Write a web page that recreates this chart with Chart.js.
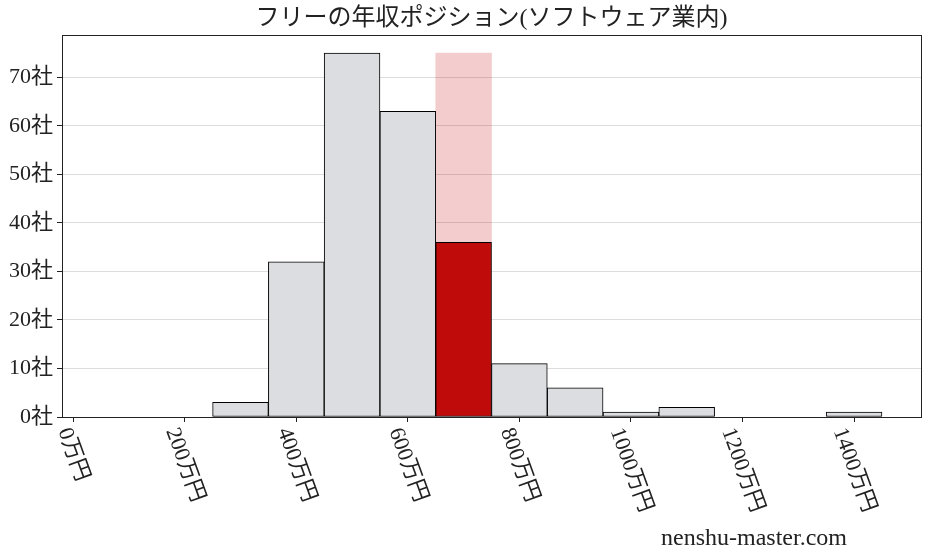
<!DOCTYPE html>
<html lang="ja">
<head>
<meta charset="utf-8">
<title>フリーの年収ポジション(ソフトウェア業内)</title>
<script src="https://cdn.jsdelivr.net/npm/chart.js@4.4.0/dist/chart.umd.min.js"></script>
<style>
    html, body { margin: 0; padding: 0; background: #fff; }
    #wrap { width: 927px; height: 557px; }
</style>
</head>
<body>
<div id="wrap"><canvas id="myChart" width="927" height="557"></canvas></div>
<script>
// DATOS
// Centro de cada intervalo (万円) y número de empresas
const binCenters = [300, 400, 500, 600, 700, 800, 900, 1000, 1100, 1200, 1300, 1400]
const counts = [3, 32, 75, 63, 36, 11, 6, 1, 2, 0, 0, 1]

// Intervalo resaltado y altura de la banda rosa
const highlightBin = 700
const highlightHeight = 75

// Etiquetas de los ejes
const xTicks = [0, 200, 400, 600, 800, 1000, 1200, 1400]
const yTicks = [0, 10, 20, 30, 40, 50, 60, 70]

const titleText = 'フリーの年収ポジション(ソフトウェア業内)'
const siteText = 'nenshu-master.com'

const fontFamily = '"Liberation Serif", "Noto Sans CJK JP", serif'
const ink = '#222'

const ctx = document.getElementById('myChart')

Chart.defaults.font.family = fontFamily
Chart.defaults.color = ink

// Título, marco y etiquetas giradas del eje x
const decor = {
    id: 'decor',
    afterDatasetsDraw(chart) {
        const { ctx: c, chartArea: area } = chart
        c.save()
        c.strokeStyle = ink
        c.lineWidth = 1
        c.strokeRect(Math.round(area.left) + 0.5, Math.round(area.top) + 0.5,
            Math.round(area.right - area.left), Math.round(area.bottom - area.top))
        c.restore()
    },
    afterDraw(chart) {
        const { ctx: c, chartArea: area, scales } = chart
        c.save()
        c.fillStyle = ink

        // Título centrado sobre el área del gráfico
        c.font = `24px ${fontFamily}`
        c.textAlign = 'center'
        c.textBaseline = 'middle'
        c.fillText(titleText, (area.left + area.right) / 2, 19)

        // Etiquetas del eje x giradas 70 grados
        const angle = 70 * Math.PI / 180
        const h = 22
        c.font = `22px ${fontFamily}`
        scales.x.ticks.forEach(t => {
            const label = `${t.value}万円`
            const w = c.measureText(label).width
            const boxH = w * Math.sin(angle) + h * Math.cos(angle)
            const cx = scales.x.getPixelForValue(t.value)
            const cy = area.bottom + 8 + boxH / 2
            c.save()
            c.translate(cx, cy)
            c.rotate(angle)
            c.textAlign = 'center'
            c.textBaseline = 'middle'
            c.fillText(label, 0, 0)
            c.restore()
        })

        // Marca de agua
        c.font = `24px ${fontFamily}`
        c.textAlign = 'right'
        c.textBaseline = 'alphabetic'
        c.fillText(siteText, 847, 545)
        c.restore()
    },
}

// eslint-disable-next-line no-new, no-undef
new Chart(ctx, {
    type: 'bar',
    data: {
        datasets: [
            {
                label: '年収',
                data: binCenters.map((x, i) => ({ x, y: counts[i] })),
                backgroundColor: binCenters.map(x => (x === highlightBin ? '#c00b0b' : '#dcdde0')),
                borderColor: '#000',
                borderWidth: 1,
                borderSkipped: false,
                barPercentage: 1,
                categoryPercentage: 1,
                grouped: false,
                order: 1,
            },
            {
                label: 'banda',
                data: [{ x: highlightBin, y: highlightHeight }],
                backgroundColor: 'rgba(200, 20, 20, 0.21)',
                borderWidth: 0,
                barPercentage: 1,
                categoryPercentage: 1,
                grouped: false,
                order: 2,
            },
        ],
    },
    options: {
        responsive: false,
        devicePixelRatio: 1,
        animation: false,
        layout: {
            padding: { top: 35, right: 6, left: 0, bottom: 0 },
        },
        plugins: {
            legend: { display: false },
            tooltip: { enabled: false },
            title: { display: false },
        },
        scales: {
            x: {
                type: 'linear',
                min: -20,
                max: 1520,
                offset: false,
                afterBuildTicks: scale => {
                    scale.ticks = xTicks.map(v => ({ value: v }))
                },
                afterFit: scale => {
                    scale.height = 140
                },
                ticks: {
                    color: 'rgba(0, 0, 0, 0)',
                    autoSkip: false,
                    maxRotation: 0,
                    font: { size: 20 },
                },
                grid: {
                    offset: false,
                    drawOnChartArea: false,
                    tickColor: ink,
                    tickLength: 5,
                },
                border: { display: false },
            },
            y: {
                min: 0,
                max: 78.75,
                afterBuildTicks: scale => {
                    scale.ticks = yTicks.map(v => ({ value: v }))
                },
                afterFit: scale => {
                    scale.width = 62
                },
                ticks: {
                    padding: 4,
                    font: { size: 22 },
                    callback: v => `${v}社`,
                },
                grid: {
                    color: '#dcdcdc',
                    tickColor: ink,
                    tickLength: 5,
                },
                border: { display: false },
            },
        },
    },
    plugins: [decor],
})
</script>
</body>
</html>
